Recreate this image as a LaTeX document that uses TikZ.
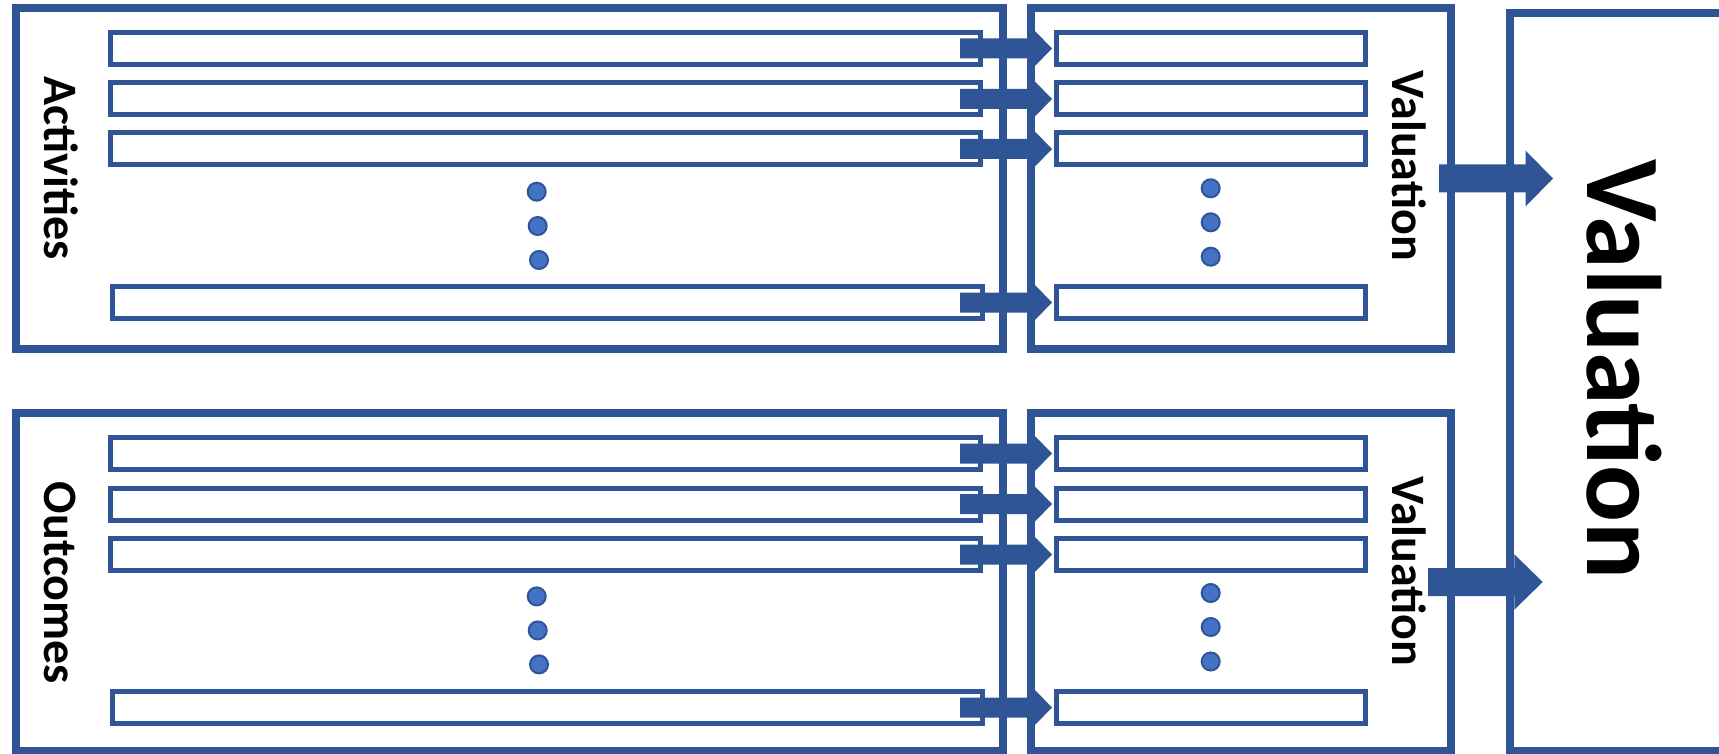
\documentclass[tikz,border=0pt]{standalone}
\usepackage{fontspec}
\setmainfont{Carlito}
\usetikzlibrary{calc}
\definecolor{mblue}{RGB}{47,85,151}
\definecolor{dotblue}{RGB}{68,114,196}
% #1 start, #2 tip, #3 shaft half height, #4 head half height, #5 head length
\newcommand\myarrow[5]{%
  \fill[mblue] let \p1=(#1), \p2=(#2) in
    (\x1,\y1-#3) -- (\x2-#5,\y1-#3) -- (\x2-#5,\y1-#4) -- (\x2,\y1)
    -- (\x2-#5,\y1+#4) -- (\x2-#5,\y1+#3) -- (\x1,\y1+#3) -- cycle;}
\begin{document}
\begin{tikzpicture}[x=1pt,y=-1pt,
  outerbox/.style={draw=mblue,line width=8pt,inner sep=0pt,outer sep=0pt,rectangle},
  bar/.style={draw=mblue,line width=5pt,fill=white,inner sep=0pt,outer sep=0pt,rectangle,minimum height=32pt},
  lbar/.style={bar,minimum width=869.5pt},
  rbar/.style={bar,minimum width=308.5pt},
  lbl/.style={font=\bfseries\fontsize{48}{56}\selectfont,rotate=-90,anchor=base,inner sep=0pt},
  biglbl/.style={font=\bfseries\fontsize{106}{120}\selectfont,rotate=-90,anchor=base,inner sep=0pt},
  vdot/.style={circle,fill=dotblue,draw=mblue,line width=2pt,minimum size=18pt,inner sep=0pt}]
\useasboundingbox (0,0) rectangle (1719,754);
\clip (0,0) rectangle (1719,754);
\fill[white] (0,0) rectangle (1719,754);

% frames
\node[outerbox,minimum width=987pt,minimum height=341pt] (act) at (509.5,178.5) {};
\node[outerbox,minimum width=420pt,minimum height=341pt] (val1) at (1241,178.5) {};
\node[outerbox,minimum width=987pt,minimum height=338pt] (out) at (509.5,582) {};
\node[outerbox,minimum width=420pt,minimum height=338pt] (val2) at (1241,582) {};
\node[outerbox,minimum width=290pt,minimum height=738pt] (big) at (1655,382) {};

% bars, upper section
\node[lbar] (a1) at (545.25,48.5) {};
\node[lbar] (a2) at (545.25,99) {};
\node[lbar] (a3) at (545.25,149) {};
\node[lbar] (a4) at (547.25,302.5) {};
\node[rbar] (v1) at (1210.75,48.5) {};
\node[rbar] (v2) at (1210.75,99) {};
\node[rbar] (v3) at (1210.75,149) {};
\node[rbar] (v4) at (1210.75,302.5) {};
% bars, lower section
\node[lbar] (o1) at (545.25,453.5) {};
\node[lbar] (o2) at (545.25,504) {};
\node[lbar] (o3) at (545.25,554.5) {};
\node[lbar] (o4) at (547.25,707.5) {};
\node[rbar] (w1) at (1210.75,453.5) {};
\node[rbar] (w2) at (1210.75,504) {};
\node[rbar] (w3) at (1210.75,554.5) {};
\node[rbar] (w4) at (1210.75,707.5) {};

% dots
\node[vdot] (d1) at (536.7,191.7) {};
\node[vdot] (d2) at (537.7,226) {};
\node[vdot] (d3) at (539,260) {};
\node[vdot] (e1) at (1210.7,188.3) {};
\node[vdot] (e2) at (1210.7,222.3) {};
\node[vdot] (e3) at (1210.7,256.7) {};
\node[vdot] (f1) at (536.7,596.4) {};
\node[vdot] (f2) at (537.7,630.4) {};
\node[vdot] (f3) at (539,664.4) {};
\node[vdot] (g1) at (1210.7,593) {};
\node[vdot] (g2) at (1210.7,627) {};
\node[vdot] (g3) at (1210.7,661.5) {};

% small arrows
\myarrow{[xshift=-20pt]a1.east}{[xshift=-4.5pt]v1.west}{10pt}{18pt}{17.5pt}
\myarrow{[xshift=-20pt]a2.east}{[xshift=-4.5pt]v2.west}{10pt}{18pt}{17.5pt}
\myarrow{[xshift=-20pt]a3.east}{[xshift=-4.5pt]v3.west}{10pt}{18pt}{17.5pt}
\myarrow{[xshift=-22pt]a4.east}{[xshift=-4.5pt]v4.west}{10pt}{18pt}{17.5pt}
\myarrow{[xshift=-20pt]o1.east}{[xshift=-4.5pt]w1.west}{10pt}{18pt}{17.5pt}
\myarrow{[xshift=-20pt]o2.east}{[xshift=-4.5pt]w2.west}{10pt}{18pt}{17.5pt}
\myarrow{[xshift=-20pt]o3.east}{[xshift=-4.5pt]w3.west}{10pt}{18pt}{17.5pt}
\myarrow{[xshift=-22pt]o4.east}{[xshift=-4.5pt]w4.west}{10pt}{18pt}{17.5pt}

% big arrows
\coordinate (t1) at ($(val1.east -| big.west)+(43,0)$);
\coordinate (t2) at ($(val2.east -| big.west)+(32.7,0)$);
\myarrow{[xshift=-12pt]val1.east}{t1}{14pt}{28pt}{27.5pt}
\myarrow{[xshift=-23pt]val2.east}{t2}{14pt}{27.7pt}{28.4pt}

% labels
\node[lbl] (tact) at (44,168.3) {Activities};
\node[lbl] (tout) at (44,583) {Outcomes};
\node[lbl] (tv1) at (1392.5,165.8) {Valuation};
\node[lbl] (tv2) at (1392.5,571.5) {Valuation};
\node[biglbl] (tbig) at (1587,369.5) {Valuation};
\end{tikzpicture}
\end{document}
